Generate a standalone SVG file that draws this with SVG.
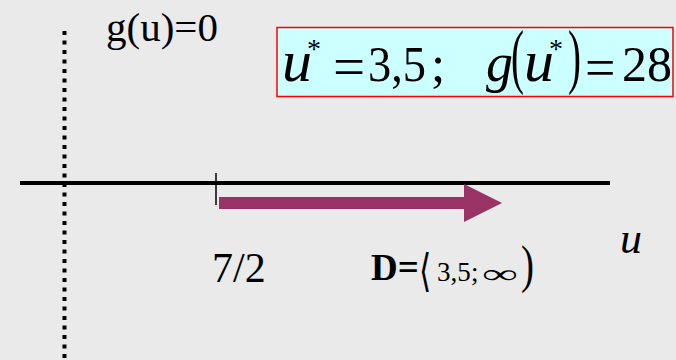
<svg xmlns="http://www.w3.org/2000/svg" width="676" height="360" viewBox="0 0 676 360">
<style>
.t{font-family:"Liberation Serif","Times New Roman",serif;fill:#000}
.i{font-style:italic}
.s{font-family:"DejaVu Serif","DejaVu Sans",serif;fill:#000}
</style>
<rect width="676" height="360" fill="#EAEAEA"/>
<g id="axes">
<line x1="64.5" y1="31" x2="64.5" y2="360" stroke="#000" stroke-width="4" stroke-dasharray="4,5.5"/>
<line x1="20" y1="183" x2="610" y2="183" stroke="#000" stroke-width="4"/>
<line x1="216" y1="173" x2="216" y2="205" stroke="#000" stroke-width="1.5"/>
</g>
<g id="domain-arrow">
<polygon points="219,197 464,197 464,184 502,203 464,222 464,209 219,209" fill="#993366"/>
</g>
<text class="t" x="106" y="41" font-size="41">g(u)=0</text>
<g id="result-box">
<rect x="277" y="27.5" width="396" height="69" fill="#CCFFFF" stroke="#FF0000" stroke-width="1.5"/>
<text class="t i" x="282" y="81" font-size="60">u</text>
<text class="t" x="307" y="58" font-size="28">*</text>
<text class="t" x="333" y="86" font-size="57">=</text>
<text class="t" x="368" y="81" font-size="51" textLength="58" lengthAdjust="spacingAndGlyphs">3,5</text>
<text class="t" x="431" y="81" font-size="51">;</text>
<text class="t i" x="486" y="81" font-size="54">g</text>
<text class="t" transform="translate(511,80) scale(0.55,1)" font-size="71">(</text>
<text class="t i" x="524" y="81" font-size="60">u</text>
<text class="t" x="549" y="58" font-size="28">*</text>
<text class="t" transform="translate(568,80) scale(0.55,1)" font-size="71">)</text>
<text class="t" x="585" y="86" font-size="54">=</text>
<text class="t" x="622" y="81" font-size="50">28</text>
</g>
<text class="t" x="212" y="282" font-size="42">7/2</text>
<g id="domain-label">
<text class="t" x="371" y="280" font-size="37" font-weight="bold">D=</text>
<text class="s" transform="translate(419,286) scale(0.7,1)" font-size="45">⟨</text>
<text class="t" x="437" y="281" font-size="27">3,5</text>
<text class="t" x="471" y="281" font-size="27">;</text>
<text class="t" x="482" y="283" font-size="27" textLength="36" lengthAdjust="spacingAndGlyphs">∞</text>
<text class="t" transform="translate(521,282) scale(0.75,1)" font-size="52">)</text>
</g>
<text class="t i" x="620" y="253" font-size="44">u</text>
</svg>
